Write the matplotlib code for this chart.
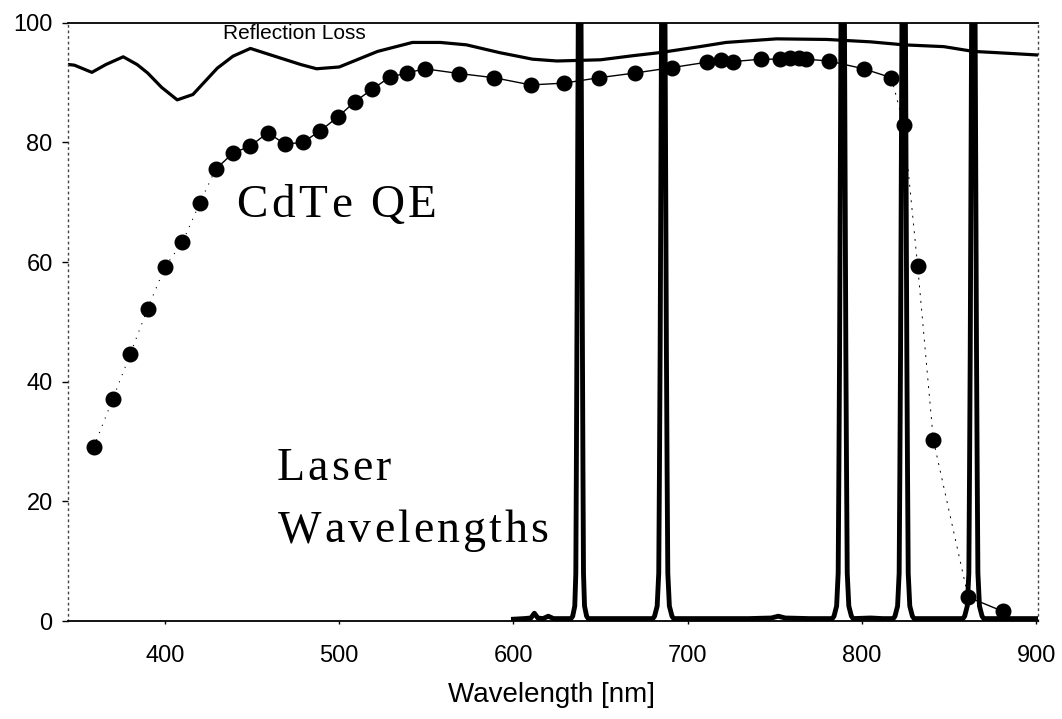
import matplotlib
matplotlib.use("Agg")
import matplotlib.pyplot as plt
import matplotlib.transforms as mtransforms
from matplotlib.font_manager import FontProperties, findfont
from matplotlib.ft2font import FT2Font

# reflection loss curve
refl_nm = [345, 348, 358, 366, 376, 384, 390, 398, 407, 416, 430, 439, 449, 464, 478, 487, 500,
           522, 542, 558, 573, 592, 611, 625, 650, 669, 684, 707, 722, 751, 780, 805, 824,
           847, 864, 877, 901]
refl_val = [93.0, 92.9, 91.7, 93.0, 94.3, 93.0, 91.6, 89.2, 87.1, 88.0, 92.4, 94.4, 95.7, 94.3,
            93.0, 92.3, 92.6, 95.2, 96.7, 96.7, 96.3, 95.0, 93.9, 93.6, 93.8, 94.5, 95.0, 96.0,
            96.7, 97.3, 97.2, 96.8, 96.3, 96.0, 95.2, 95.0, 94.6]

# CdTe quantum efficiency points
qe_nm = [359, 370, 380, 390, 400, 410, 420, 429, 439, 449, 459, 469, 479, 489, 499, 509, 519,
         529, 539, 549, 569, 589, 610, 629, 649, 670, 691, 711, 719, 726, 742, 753, 759, 764,
         768, 781, 801, 817, 824, 832, 841, 861, 881]
qe_val = [29.0, 37.1, 44.6, 52.2, 59.2, 63.3, 69.9, 75.5, 78.2, 79.4, 81.6, 79.7, 80.0, 81.9,
          84.2, 86.8, 88.9, 90.9, 91.6, 92.3, 91.5, 90.8, 89.6, 89.9, 90.8, 91.6, 92.5, 93.4,
          93.8, 93.5, 93.9, 93.9, 94.1, 94.1, 93.9, 93.6, 92.3, 90.8, 82.9, 59.4, 30.3, 4.0, 1.6]

# laser spectrum: baseline plus five narrow lines whose tops run off scale
laser_nm = [600, 606, 610, 612, 614, 617, 620, 623, 628,
            633, 634, 635.2, 635.8, 636.1, 636.4, 637.2, 638, 638.8, 639.6, 639.9, 640.2, 640.8, 642, 643,
            650, 670,
            680, 681, 682.5, 683.4, 683.8, 684.2, 685, 686, 687, 687.8, 688.2, 688.6, 689.5, 691, 692,
            700, 735, 748, 752, 756, 770,
            783, 784, 785.5, 786.4, 786.8, 787.2, 788, 789, 790, 790.8, 791.2, 791.6, 792.5, 794, 795,
            805, 812,
            818, 819, 820.5, 821.4, 821.8, 822.2, 823, 824, 825, 825.8, 826.2, 826.6, 827.5, 829, 830,
            840, 850,
            858, 859, 860.5, 861.4, 861.8, 862.2, 863, 864, 865, 865.8, 866.2, 866.6, 867.5, 869, 870,
            880, 900]
laser_val = [0.3, 0.4, 0.5, 1.3, 0.5, 0.4, 0.8, 0.4, 0.4,
             0.4, 0.8, 2.5, 8, 25, 45, 100, 160, 100, 45, 25, 8, 2.5, 0.8, 0.4,
             0.4, 0.4,
             0.4, 0.8, 2.5, 8, 25, 45, 100, 160, 100, 45, 25, 8, 2.5, 0.8, 0.4,
             0.4, 0.4, 0.5, 0.8, 0.5, 0.4,
             0.4, 0.8, 2.5, 8, 25, 45, 100, 160, 100, 45, 25, 8, 2.5, 0.8, 0.4,
             0.5, 0.4,
             0.4, 0.8, 2.5, 8, 25, 45, 100, 160, 100, 45, 25, 8, 2.5, 0.8, 0.4,
             0.4, 0.4,
             0.4, 0.8, 2.5, 8, 25, 45, 100, 160, 100, 45, 25, 8, 2.5, 0.8, 0.4,
             0.4, 0.4]

sans = ["Liberation Sans", "DejaVu Sans"]
serif = ["Liberation Serif", "DejaVu Serif"]

fig = plt.figure(figsize=(10.62, 7.19), dpi=100)
ax = fig.add_axes([68 / 1062, 1 - 621 / 719, 970 / 1062, 598.3 / 719])


def spaced_text(x, y, s, size, extra_pt):
    # serif label with a bit of letter spacing, like the original
    fp = FontProperties(family=serif, size=size)
    ft = FT2Font(findfont(fp))
    ft.set_size(size, 72)
    off = 0.0
    for ch in s:
        tr = mtransforms.offset_copy(ax.transData, fig=fig, x=off, y=0, units="points")
        if ch != " ":
            ax.text(x, y, ch, fontproperties=fp, transform=tr, ha="left", va="baseline")
        g = ft.load_char(ord(ch))
        off += g.linearHoriAdvance / 65536 + extra_pt


ax.plot(laser_nm, laser_val, color="black", lw=3.5, solid_joinstyle="round", zorder=3)
ax.plot(refl_nm, refl_val, color="black", lw=2.3, zorder=2)

# qe connecting line: dotted where the curve is steep, solid in between
ax.plot(qe_nm[:8], qe_val[:8], color="black", lw=0.8, ls=(0, (1, 6)), zorder=2)
ax.plot(qe_nm[7:38], qe_val[7:38], color="black", lw=1.0, zorder=2)
ax.plot(qe_nm[37:42], qe_val[37:42], color="black", lw=0.7, ls=(0, (2, 6)), zorder=2)
ax.plot(qe_nm[41:], qe_val[41:], color="black", lw=1.0, zorder=2)
ax.plot(qe_nm, qe_val, "o", color="black", ms=10.5, zorder=4)

ax.set_xlim(344.3, 901.1)
ax.set_ylim(0, 100)
ax.set_xticks([400, 500, 600, 700, 800, 900])
ax.set_yticks([0, 20, 40, 60, 80, 100])

for s in ["left", "right"]:
    ax.spines[s].set_linestyle((0, (1, 3)))
    ax.spines[s].set_linewidth(1.0)
    ax.spines[s].set_color("#444444")
ax.spines["top"].set_linewidth(1.3)
ax.spines["bottom"].set_linewidth(1.3)

ax.tick_params(axis="y", length=4, width=1, pad=7, direction="out")
ax.tick_params(axis="x", length=2.5, width=1, pad=15, direction="out")
for lab in ax.get_xticklabels() + ax.get_yticklabels():
    lab.set_family(sans)
    lab.set_fontsize(17)

ax.text(474, 98.2, "Reflection Loss", family=sans, fontsize=15, ha="center", va="center")
spaced_text(441, 67.6, "CdTe QE", 34, 2.5)
spaced_text(464, 23.6, "Laser", 33, 2.2)
spaced_text(465, 13.2, "Wavelengths", 33, 2.2)

fig.text(552 / 1062, 1 - 695 / 719, "Wavelength [nm]", family=sans, fontsize=20,
         ha="center", va="center")

fig.savefig("out.png", dpi=100)
